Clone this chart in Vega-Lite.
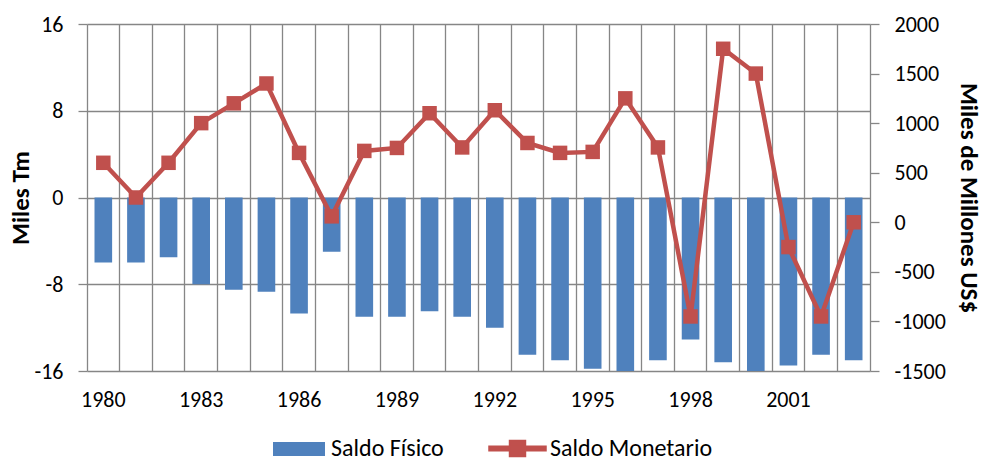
{
  "$schema": "https://vega.github.io/schema/vega-lite/v6.json",
  "autosize": {"type": "none"},
  "width": 783,
  "height": 347,
  "padding": {"left": 87, "top": 24, "right": 114, "bottom": 88},
  "background": "white",
  "config": {
    "font": "Carlito, Lato, sans-serif",
    "view": {"stroke": null}
  },
  "data": {
    "values": [
      {"year": 1980, "fisico": -6.0, "monetario": 600},
      {"year": 1981, "fisico": -6.0, "monetario": 250},
      {"year": 1982, "fisico": -5.5, "monetario": 600},
      {"year": 1983, "fisico": -8.0, "monetario": 1000},
      {"year": 1984, "fisico": -8.5, "monetario": 1200},
      {"year": 1985, "fisico": -8.7, "monetario": 1400},
      {"year": 1986, "fisico": -10.7, "monetario": 700},
      {"year": 1987, "fisico": -5.0, "monetario": 60},
      {"year": 1988, "fisico": -11.0, "monetario": 720},
      {"year": 1989, "fisico": -11.0, "monetario": 750},
      {"year": 1990, "fisico": -10.5, "monetario": 1100},
      {"year": 1991, "fisico": -11.0, "monetario": 755},
      {"year": 1992, "fisico": -12.0, "monetario": 1130},
      {"year": 1993, "fisico": -14.5, "monetario": 800},
      {"year": 1994, "fisico": -15.0, "monetario": 700},
      {"year": 1995, "fisico": -15.8, "monetario": 710},
      {"year": 1996, "fisico": -16.0, "monetario": 1250},
      {"year": 1997, "fisico": -15.0, "monetario": 755},
      {"year": 1998, "fisico": -13.1, "monetario": -950},
      {"year": 1999, "fisico": -15.2, "monetario": 1750},
      {"year": 2000, "fisico": -16.0, "monetario": 1500},
      {"year": 2001, "fisico": -15.5, "monetario": -250},
      {"year": 2002, "fisico": -14.5, "monetario": -950},
      {"year": 2003, "fisico": -15.0, "monetario": 0}
    ]
  },
  "encoding": {
    "x": {
      "field": "year",
      "type": "ordinal",
      "scale": {"paddingInner": 0, "paddingOuter": 0},
      "axis": {
        "title": null,
        "labelAngle": 0,
        "labelExpr": "(datum.value - 1980) % 3 == 0 ? datum.label : ''",
        "labelFontSize": 22,
        "labelColor": "#000000",
        "labelPadding": 18,
        "ticks": false,
        "domain": false,
        "grid": true,
        "bandPosition": 0,
        "gridColor": "#868686",
        "gridWidth": 1.3,
        "gridOpacity": 1
      }
    }
  },
  "layer": [
    {
      "mark": {"type": "bar", "width": {"band": 0.54}},
      "encoding": {
        "y": {
          "field": "fisico",
          "type": "quantitative",
          "scale": {"domain": [-16, 16], "nice": false, "zero": false},
          "axis": {
            "orient": "left",
            "title": "Miles Tm",
            "titleFontSize": 25,
            "titleFontWeight": "bold",
            "titleColor": "#000000",
            "titlePadding": 0,
            "values": [-16, -8, 0, 8, 16],
            "labelExpr": "datum.value + ''",
            "labelFontSize": 22,
            "labelColor": "#000000",
            "labelPadding": 15,
            "grid": true,
            "gridColor": "#868686",
            "gridWidth": 1.3,
            "gridOpacity": 1,
            "ticks": true,
            "tickSize": 9,
            "tickColor": "#868686",
            "tickWidth": 1.3,
            "domain": false
          }
        },
        "fill": {
          "datum": "Saldo Físico",
          "type": "nominal",
          "scale": {"domain": ["Saldo Físico"], "range": ["#4F81BD"]},
          "legend": {
            "title": null,
            "orient": "none",
            "legendX": 185,
            "legendY": 398,
            "symbolType": "M-1,-0.27H1V0.27H-1Z",
            "symbolSize": 2704,
            "labelFontSize": 24,
            "labelLimit": 0,
            "labelColor": "#000000",
            "labelOffset": 5,
            "encode": {"symbols": {"update": {"fill": {"value": "#4F81BD"}, "stroke": {"value": "transparent"}, "opacity": {"value": 1}}}}
          }
        }
      }
    },
    {
      "layer": [
        {
          "mark": {"type": "line", "strokeWidth": 4.5},
          "encoding": {
            "y": {
              "field": "monetario",
              "type": "quantitative",
              "scale": {"domain": [-1500, 2000], "nice": false, "zero": false},
              "axis": {
                "orient": "right",
                "title": "Miles de Millones US$",
                "titleFontSize": 25,
                "titleFontWeight": "bold",
                "titleColor": "#000000",
                "titlePadding": 10,
                "values": [-1500, -1000, -500, 0, 500, 1000, 1500, 2000],
                "labelExpr": "datum.value + ''",
                "labelFontSize": 22,
                "labelColor": "#000000",
                "labelPadding": 15,
                "grid": false,
                "ticks": true,
                "tickSize": 9,
                "tickColor": "#868686",
                "tickWidth": 1.3,
                "domain": true,
                "domainColor": "#868686",
                "domainWidth": 1.3
              }
            },
            "stroke": {
              "datum": "Saldo Monetario",
              "type": "nominal",
              "scale": {"domain": ["Saldo Monetario"], "range": ["#C0504D"]},
              "legend": {
                "title": null,
                "orient": "none",
                "legendX": 401,
                "legendY": 395,
                "symbolType": "M-1,-0.08H1V0.08H-1Z M-0.28,-0.28H0.28V0.28H-0.28Z",
                "symbolSize": 3249,
                "labelFontSize": 24,
                "labelLimit": 0,
                "labelColor": "#000000",
                "labelOffset": 3,
                "encode": {"symbols": {"update": {"fill": {"value": "#C0504D"}, "stroke": {"value": "transparent"}, "opacity": {"value": 1}}}}
              }
            }
          }
        },
        {
          "mark": {"type": "point", "shape": "square", "filled": true, "size": 210, "color": "#C0504D", "opacity": 1},
          "encoding": {
            "y": {"field": "monetario", "type": "quantitative"}
          }
        }
      ]
    }
  ],
  "resolve": {"scale": {"y": "independent", "fill": "independent", "stroke": "independent"}}
}
